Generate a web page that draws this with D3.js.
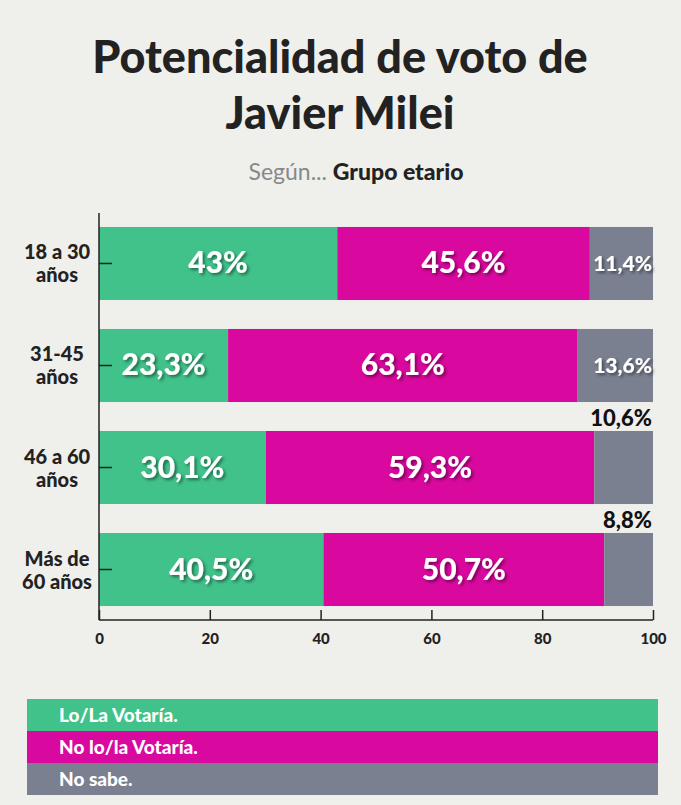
<!DOCTYPE html>
<html lang="es">
<head>
<meta charset="UTF-8">
<title>Potencialidad de voto de Javier Milei</title>
<script src="https://d3js.org/d3.v7.min.js"></script>
<style>
  body { margin: 0; background: #efefec; }
  svg { display: block; font-family: "Lato", "Inter", sans-serif; }
  svg text { font-family: "Lato", "Inter", sans-serif; }
  .axis path, .axis line { stroke: #222; stroke-width: 1.5; }
  .axis .tick text { font-size: 15px; font-weight: 900; fill: #222; }
</style>
</head>
<body>
<svg id="chart"></svg>
<script>
const categories = ["18 a 30\naños", "31-45\naños", "46 a 60\naños", "Más de\n60 años"];
const seriesNames = ["Lo/La Votaría.", "No lo/la Votaría.", "No sabe."];
const votaria = [43, 23.3, 30.1, 40.5];
const noVotaria = [45.6, 63.1, 59.3, 50.7];
const noSabe = [11.4, 13.6, 10.6, 8.8];
const xTicks = [0, 20, 40, 60, 80, 100];
const colors = ["#40c28a", "#d9089e", "#7a8090"];

const width = 681, height = 805;
const svg = d3.select("#chart").attr("width", width).attr("height", height);

const defs = svg.append("defs");
const f = defs.append("filter").attr("id", "shadow").attr("x", "-20%").attr("y", "-30%").attr("width", "140%").attr("height", "160%");
f.append("feDropShadow").attr("dx", 2).attr("dy", 2).attr("stdDeviation", 1.5).attr("flood-color", "#000").attr("flood-opacity", 0.45);

// titulo
svg.append("text").attr("x", 340).attr("y", 73).attr("text-anchor", "middle")
  .style("font-size", "45px").style("font-weight", 900).style("fill", "#222")
  .text("Potencialidad de voto de");
svg.append("text").attr("x", 340).attr("y", 129).attr("text-anchor", "middle")
  .style("font-size", "45px").style("font-weight", 900).style("fill", "#222")
  .text("Javier Milei");
const sub = svg.append("text").attr("x", 356).attr("y", 180).attr("text-anchor", "middle")
  .style("font-size", "23px");
sub.append("tspan").style("fill", "#888").style("font-weight", 400).text("Según... ");
sub.append("tspan").style("fill", "#222").style("font-weight", 900).text("Grupo etario");

const x = d3.scaleLinear().domain([0, 100]).range([99, 653]);
const y = d3.scaleBand().domain(categories).range([213, 620]).paddingInner(0.284).paddingOuter(0.137);

const rows = categories.map((c, i) => {
  const vals = [votaria[i], noVotaria[i], noSabe[i]];
  let acc = 0;
  return { cat: c, segs: vals.map((v, k) => { const s = { k, v, x0: acc, x1: acc + v }; acc += v; return s; }) };
});

// barras
const g = svg.selectAll(".row").data(rows).enter().append("g").attr("class", "row");
g.selectAll("rect").data(d => d.segs.map(s => ({ ...s, cat: d.cat }))).enter().append("rect")
  .attr("x", d => x(d.x0))
  .attr("width", d => x(Math.min(d.x1, 100)) - x(d.x0))
  .attr("y", d => y(d.cat))
  .attr("height", y.bandwidth())
  .attr("fill", d => colors[d.k]);

const fmt = v => String(v).replace(".", ",") + "%";

// etiquetas
g.selectAll("text.lbl").data(d => d.segs.map(s => ({ ...s, cat: d.cat }))).enter().append("text")
  .attr("class", "lbl")
  .each(function (d) {
    const t = d3.select(this);
    if (d.k < 2) {
      t.attr("x", x((d.x0 + d.x1) / 2)).attr("y", y(d.cat) + y.bandwidth() / 2 + 10)
        .attr("text-anchor", "middle").style("font-size", "30px").style("font-weight", 900)
        .style("fill", "#fff").attr("filter", "url(#shadow)");
    } else if (d.v > 11) {
      t.attr("x", x(100) - 1).attr("y", y(d.cat) + y.bandwidth() / 2 + 8)
        .attr("text-anchor", "end").style("font-size", "21px").style("font-weight", 900)
        .style("fill", "#fff").attr("filter", "url(#shadow)");
    } else {
      t.attr("x", x(100) - 1).attr("y", y(d.cat) - 5)
        .attr("text-anchor", "end").style("font-size", "22px").style("font-weight", 900)
        .style("fill", "#111");
    }
  })
  .text(d => fmt(d.v));

// ejes
const xAxis = svg.append("g").attr("class", "axis").attr("transform", "translate(0,620)")
  .call(d3.axisTop(x).tickValues(xTicks).tickSize(10).tickPadding(0));
xAxis.select(".domain").remove();
xAxis.append("line").attr("x1", x(0)).attr("x2", x(100)).attr("stroke", "#222").attr("stroke-width", 1.5);
xAxis.selectAll(".tick text").attr("y", 24).attr("dy", 0);

const yAxis = svg.append("g").attr("class", "axis").attr("transform", "translate(99,0)")
  .call(d3.axisRight(y).tickSize(13).tickFormat(""));
yAxis.select(".domain").attr("d", "M0,213V620");

yAxis.selectAll(".tick").append("text")
  .attr("x", 57 - 99).attr("text-anchor", "middle")
  .style("font-size", "20px").style("font-weight", 900).style("fill", "#222")
  .each(function (d) {
    const lines = d.split("\n");
    d3.select(this).selectAll("tspan").data(lines).enter().append("tspan")
      .attr("x", 57 - 99).attr("y", (l, i) => -4 + i * 23).text(l => l);
  });

// leyenda
const leg = svg.append("g").selectAll("g").data(seriesNames).enter().append("g")
  .attr("transform", (d, i) => `translate(27,${699 + i * 32})`);
leg.append("rect").attr("width", 631).attr("height", 32).attr("fill", (d, i) => colors[i]);
leg.append("text").attr("x", 32).attr("y", 23).style("fill", "#fff")
  .style("font-size", "19px").style("font-weight", 900).text(d => d);
</script>
</body>
</html>
